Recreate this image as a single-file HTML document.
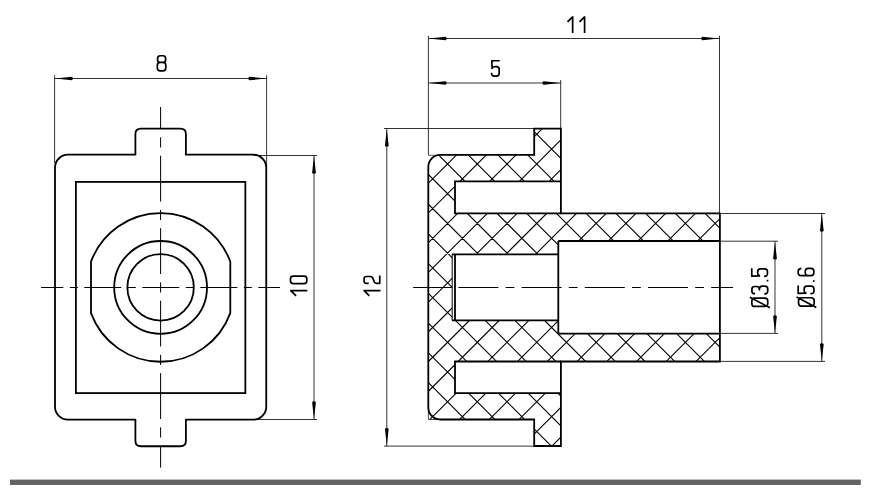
<!DOCTYPE html><html><head><meta charset="utf-8"><style>html,body{margin:0;padding:0;background:#fff;width:874px;height:500px;overflow:hidden;font-family:"Liberation Sans",sans-serif}</style></head><body><svg width="874" height="500" viewBox="0 0 874 500" style="position:absolute;left:0;top:0">
<rect width="874" height="500" fill="#fff"/>
<path d="M68.0,154.7 H135.4 V134.1 Q135.4,128.6 140.9,128.6 H180.4 Q185.9,128.6 185.9,134.1 V154.7 H253.25 A13.0,13.0 0 0 1 266.25,167.7 V406.7 A13.0,13.0 0 0 1 253.25,419.7 H185.9 V440.75 Q185.9,446.25 180.4,446.25 H140.9 Q135.4,446.25 135.4,440.75 V419.7 H68.0 A13.0,13.0 0 0 1 55.0,406.7 V167.7 A13.0,13.0 0 0 1 68.0,154.7 Z" fill="none" stroke="#000" stroke-width="1.8" stroke-linejoin="round"/>
<rect x="75.9" y="181.9" width="169.45" height="211.2" fill="none" stroke="#000" stroke-width="1.8"/>
<path d="M91.0,261.68 A74.2,74.2 0 0 1 230.3,261.68 V313.12 A74.2,74.2 0 0 1 91.0,313.12 Z" fill="none" stroke="#000" stroke-width="1.8" stroke-linejoin="round"/>
<circle cx="160.6" cy="287.4" r="46.4" fill="none" stroke="#000" stroke-width="1.8"/>
<circle cx="160.6" cy="287.4" r="33.2" fill="none" stroke="#000" stroke-width="1.8"/>
<line x1="160.6" y1="107" x2="160.6" y2="467.6" stroke="#000" stroke-width="1.0" stroke-dasharray="45.8 8.35 10.2 8.15" stroke-dashoffset="23.8"/>
<line x1="41" y1="287.5" x2="280" y2="287.5" stroke="#000" stroke-width="1.0" stroke-dasharray="37 6.5 8 6.5" stroke-dashoffset="14.7"/>
<line x1="54.6" y1="75.2" x2="54.6" y2="163" stroke="#000" stroke-width="0.8" />
<line x1="266.6" y1="75.2" x2="266.6" y2="167" stroke="#000" stroke-width="0.8" />
<line x1="54.5" y1="78.5" x2="266.7" y2="78.5" stroke="#000" stroke-width="0.8" />
<path d="M55.20,78.50 L71.70,76.65 Q72.90,76.83 72.90,78.50 Q72.90,80.17 71.70,80.35 Z" fill="#000"/>
<path d="M266.10,78.50 L249.60,80.35 Q248.40,80.17 248.40,78.50 Q248.40,76.83 249.60,76.65 Z" fill="#000"/>
<path transform="translate(156.6,55.0) scale(1,0.9765)" d="M3.6,0.75 H6.4 Q9.0,0.75 9.0,3.35 V5.0 Q9.0,7.6 6.4,7.6 H3.6 Q1.0,7.6 1.0,5.0 V3.35 Q1.0,0.75 3.6,0.75 Z M3.75,7.6 H6.199999999999999 Q9.2,7.6 9.2,10.6 V13.25 Q9.2,16.25 6.199999999999999,16.25 H3.75 Q0.75,16.25 0.75,13.25 V10.6 Q0.75,7.6 3.75,7.6 Z" fill="none" stroke="#000" stroke-width="1.7" vector-effect="non-scaling-stroke" stroke-linecap="butt" stroke-linejoin="round"/>
<line x1="253.5" y1="155.5" x2="317" y2="155.5" stroke="#000" stroke-width="0.8" />
<line x1="253.5" y1="419.5" x2="317" y2="419.5" stroke="#000" stroke-width="0.8" />
<line x1="314.0" y1="155.5" x2="314.0" y2="419.5" stroke="#000" stroke-width="0.8" />
<path d="M314.00,156.00 L315.85,172.50 Q315.67,173.70 314.00,173.70 Q312.33,173.70 312.15,172.50 Z" fill="#000"/>
<path d="M314.00,419.00 L312.15,402.50 Q312.33,401.30 314.00,401.30 Q315.67,401.30 315.85,402.50 Z" fill="#000"/>
<path transform="translate(290.1,296.3) rotate(-90) scale(1,1.0118)" d="M5.6,0.0 V17 M5.6,0.75 L0.45,5.9" fill="none" stroke="#000" stroke-width="1.7" vector-effect="non-scaling-stroke" stroke-linecap="butt" stroke-linejoin="round"/>
<path transform="translate(289.7,284.4) rotate(-90) scale(1,1.0529)" d="M3.35,0.75 H5.65 Q8.25,0.75 8.25,3.35 V13.65 Q8.25,16.25 5.65,16.25 H3.35 Q0.75,16.25 0.75,13.65 V3.35 Q0.75,0.75 3.35,0.75 Z" fill="none" stroke="#000" stroke-width="1.7" vector-effect="non-scaling-stroke" stroke-linecap="butt" stroke-linejoin="round"/>
<defs><clipPath id="hc"><path clip-rule="evenodd" d="M534.2,128.55 H560.9 V213.3 H719.9 V361.5 H560.9 V446.0 H534.2 V419.5 H428.3 V166.8 A12,12 0 0 1 440.3,154.8 H534.2 Z M455,181.3 H560.9 V213.3 H455 Z M455,361.5 H560.9 V393.2 H455 Z M452.2,254.4 H558.3 V241.0 H719.9 V333.6 H558.3 V320.4 H452.2 Z"/></clipPath></defs>
<path clip-path="url(#hc)" d="M432.04,120 L97.04,455 M461.77,120 L126.77,455 M491.50,120 L156.50,455 M521.23,120 L186.23,455 M550.96,120 L215.96,455 M580.69,120 L245.69,455 M610.42,120 L275.42,455 M640.15,120 L305.15,455 M669.88,120 L334.88,455 M699.61,120 L364.61,455 M729.34,120 L394.34,455 M759.07,120 L424.07,455 M788.80,120 L453.80,455 M818.53,120 L483.53,455 M848.26,120 L513.26,455 M877.99,120 L542.99,455 M907.72,120 L572.72,455 M937.45,120 L602.45,455 M967.18,120 L632.18,455 M996.91,120 L661.91,455 M1026.64,120 L691.64,455 M1056.37,120 L721.37,455 M106.30,120 L441.30,455 M136.03,120 L471.03,455 M165.76,120 L500.76,455 M195.49,120 L530.49,455 M225.22,120 L560.22,455 M254.95,120 L589.95,455 M284.68,120 L619.68,455 M314.41,120 L649.41,455 M344.14,120 L679.14,455 M373.87,120 L708.87,455 M403.60,120 L738.60,455 M433.33,120 L768.33,455 M463.06,120 L798.06,455 M492.79,120 L827.79,455 M522.52,120 L857.52,455 M552.25,120 L887.25,455 M581.98,120 L916.98,455 M611.71,120 L946.71,455 M641.44,120 L976.44,455 M671.17,120 L1006.17,455 M700.90,120 L1035.90,455" fill="none" stroke="#000" stroke-width="1.1"/>
<path d="M534.2,128.55 H560.9 V213.3 H719.9 V361.5 H560.9 V446.0 H534.2 V419.5 H440.3 A12,12 0 0 1 428.3,407.5 V166.8 A12,12 0 0 1 440.3,154.8 H534.2 Z" fill="none" stroke="#000" stroke-width="1.8" stroke-linejoin="miter"/>
<path d="M560.9,181.3 H455 V213.3 H560.9" fill="none" stroke="#000" stroke-width="1.8"/>
<path d="M560.9,393.2 H455 V361.5 H560.9" fill="none" stroke="#000" stroke-width="1.8"/>
<path d="M558.3,241.0 H719.9 M558.3,333.6 H719.9 M558.3,241.0 V333.6 M558.3,254.4 H452 M455,254.4 V320.4 M452,320.4 H558.3" fill="none" stroke="#000" stroke-width="1.8"/>
<line x1="452.2" y1="254.4" x2="452.2" y2="320.4" stroke="#000" stroke-width="1.0" />
<line x1="413.2" y1="287.5" x2="452" y2="287.5" stroke="#000" stroke-width="1.0" />
<line x1="458.4" y1="287.5" x2="733.1" y2="287.5" stroke="#000" stroke-width="1.0" stroke-dasharray="40 7.2 8.8 7.2"/>
<line x1="428.4" y1="35.75" x2="428.4" y2="155.3" stroke="#000" stroke-width="0.8" />
<line x1="428.4" y1="155.3" x2="440" y2="155.3" stroke="#000" stroke-width="0.6" />
<line x1="428.4" y1="407" x2="428.4" y2="419.5" stroke="#000" stroke-width="0.7" />
<line x1="428.4" y1="419.5" x2="441" y2="419.5" stroke="#000" stroke-width="0.7" />
<line x1="560.7" y1="80" x2="560.7" y2="128.6" stroke="#000" stroke-width="0.8" />
<line x1="719.5" y1="35.75" x2="719.5" y2="213.3" stroke="#000" stroke-width="0.8" />
<line x1="428.4" y1="38.5" x2="719.5" y2="38.5" stroke="#000" stroke-width="0.8" />
<path d="M428.90,38.50 L445.40,36.65 Q446.60,36.84 446.60,38.50 Q446.60,40.16 445.40,40.35 Z" fill="#000"/>
<path d="M719.00,38.50 L702.50,40.35 Q701.30,40.16 701.30,38.50 Q701.30,36.84 702.50,36.65 Z" fill="#000"/>
<path transform="translate(567.05,16.13) scale(1,0.9853)" d="M5.6,0.0 V17 M5.6,0.75 L0.45,5.9" fill="none" stroke="#000" stroke-width="1.7" vector-effect="non-scaling-stroke" stroke-linecap="butt" stroke-linejoin="round"/>
<path transform="translate(579.0,16.13) scale(1,0.9853)" d="M5.6,0.0 V17 M5.6,0.75 L0.45,5.9" fill="none" stroke="#000" stroke-width="1.7" vector-effect="non-scaling-stroke" stroke-linecap="butt" stroke-linejoin="round"/>
<line x1="428.4" y1="83.0" x2="560.7" y2="83.0" stroke="#000" stroke-width="0.8" />
<path d="M428.90,83.00 L445.40,81.15 Q446.60,81.33 446.60,83.00 Q446.60,84.67 445.40,84.85 Z" fill="#000"/>
<path d="M560.20,83.00 L543.70,84.85 Q542.50,84.67 542.50,83.00 Q542.50,81.33 543.70,81.15 Z" fill="#000"/>
<path transform="translate(491.1,60.0) scale(1,0.9941)" d="M8.6,0.75 H0.75 L1.0,9.0 M1.0,8.6 Q1.6,6.6 3.8,6.6 H5.3 Q8.1,6.6 8.1,9.4 V13.45 Q8.1,16.25 5.3,16.25 H3.3 Q0.5,16.25 0.5,13.45 V12.8" fill="none" stroke="#000" stroke-width="1.7" vector-effect="non-scaling-stroke" stroke-linecap="butt" stroke-linejoin="round"/>
<line x1="384" y1="128.5" x2="534.2" y2="128.5" stroke="#000" stroke-width="0.8" />
<line x1="384" y1="446.1" x2="534.2" y2="446.1" stroke="#000" stroke-width="0.8" />
<line x1="386.8" y1="128.5" x2="386.8" y2="446.1" stroke="#000" stroke-width="0.8" />
<path d="M386.80,129.00 L388.65,145.50 Q388.47,146.70 386.80,146.70 Q385.13,146.70 384.95,145.50 Z" fill="#000"/>
<path d="M386.80,445.60 L384.95,429.10 Q385.13,427.90 386.80,427.90 Q388.47,427.90 388.65,429.10 Z" fill="#000"/>
<path transform="translate(363.4,296.3) rotate(-90) scale(1,1.0059)" d="M5.6,0.0 V17 M5.6,0.75 L0.45,5.9" fill="none" stroke="#000" stroke-width="1.7" vector-effect="non-scaling-stroke" stroke-linecap="butt" stroke-linejoin="round"/>
<path transform="translate(363.3,284.2) rotate(-90) scale(1,1.0118)" d="M0.85,5.35 V3.2 Q0.85,0.75 3.2,0.75 H5.4 Q7.7,0.75 7.7,3.2 V7.2 C7.7,9.3 6.4,9.6 4.3,10.1 C2.1,10.6 0.85,11.2 0.85,13 V16.25 H8.7" fill="none" stroke="#000" stroke-width="1.7" vector-effect="non-scaling-stroke" stroke-linecap="butt" stroke-linejoin="round"/>
<line x1="719.9" y1="241.2" x2="778" y2="241.2" stroke="#000" stroke-width="0.8" />
<line x1="719.9" y1="333.4" x2="778" y2="333.4" stroke="#000" stroke-width="0.8" />
<line x1="775.0" y1="241.2" x2="775.0" y2="333.4" stroke="#000" stroke-width="0.8" />
<path d="M775.00,241.70 L776.85,258.20 Q776.66,259.40 775.00,259.40 Q773.34,259.40 773.15,258.20 Z" fill="#000"/>
<path d="M775.00,332.90 L773.15,316.40 Q773.34,315.20 775.00,315.20 Q776.66,315.20 776.85,316.40 Z" fill="#000"/>
<path transform="translate(751.1,307.2) rotate(-90) scale(1,1.0235)" d="M3.55,0.75 H6.3500000000000005 Q9.15,0.75 9.15,3.55 V13.45 Q9.15,16.25 6.3500000000000005,16.25 H3.55 Q0.75,16.25 0.75,13.45 V3.55 Q0.75,0.75 3.55,0.75 Z M9.9,-1.2 L-0.5,18.4" fill="none" stroke="#000" stroke-width="1.7" vector-effect="non-scaling-stroke" stroke-linecap="butt" stroke-linejoin="round"/>
<path transform="translate(751.1,294.6) rotate(-90) scale(1,1.0235)" d="M0.9,3.9 V3.3 Q0.9,0.8 3.4,0.8 H5.6 Q8.1,0.8 8.1,3.4 V5.3 Q8.1,8.1 5.2,8.1 H4.2 M4.8,8.1 H5.5 Q8.5,8.1 8.5,11.1 V13.45 Q8.5,16.25 5.6,16.25 H3.5 Q0.7,16.25 0.7,13.45 V12.9" fill="none" stroke="#000" stroke-width="1.7" vector-effect="non-scaling-stroke" stroke-linecap="butt" stroke-linejoin="round"/>
<rect x="766.65" y="279.75" width="1.7" height="1.7" fill="#000"/>
<path transform="translate(751.0,276.9) rotate(-90) scale(1,1.0118)" d="M8.6,0.75 H0.75 L1.0,9.0 M1.0,8.6 Q1.6,6.6 3.8,6.6 H5.3 Q8.1,6.6 8.1,9.4 V13.45 Q8.1,16.25 5.3,16.25 H3.3 Q0.5,16.25 0.5,13.45 V12.8" fill="none" stroke="#000" stroke-width="1.7" vector-effect="non-scaling-stroke" stroke-linecap="butt" stroke-linejoin="round"/>
<line x1="719.9" y1="213.5" x2="825" y2="213.5" stroke="#000" stroke-width="0.8" />
<line x1="719.9" y1="361.4" x2="825" y2="361.4" stroke="#000" stroke-width="0.8" />
<line x1="821.8" y1="213.5" x2="821.8" y2="361.4" stroke="#000" stroke-width="0.8" />
<path d="M821.80,214.00 L823.65,230.50 Q823.46,231.70 821.80,231.70 Q820.13,231.70 819.95,230.50 Z" fill="#000"/>
<path d="M821.80,360.90 L819.95,344.40 Q820.13,343.20 821.80,343.20 Q823.46,343.20 823.65,344.40 Z" fill="#000"/>
<path transform="translate(797.8,306.9) rotate(-90) scale(1,1.0059)" d="M3.55,0.75 H6.3500000000000005 Q9.15,0.75 9.15,3.55 V13.45 Q9.15,16.25 6.3500000000000005,16.25 H3.55 Q0.75,16.25 0.75,13.45 V3.55 Q0.75,0.75 3.55,0.75 Z M9.9,-1.2 L-0.5,18.4" fill="none" stroke="#000" stroke-width="1.7" vector-effect="non-scaling-stroke" stroke-linecap="butt" stroke-linejoin="round"/>
<path transform="translate(797.4,294.2) rotate(-90) scale(1,1.0176)" d="M8.6,0.75 H0.75 L1.0,9.0 M1.0,8.6 Q1.6,6.6 3.8,6.6 H5.3 Q8.1,6.6 8.1,9.4 V13.45 Q8.1,16.25 5.3,16.25 H3.3 Q0.5,16.25 0.5,13.45 V12.8" fill="none" stroke="#000" stroke-width="1.7" vector-effect="non-scaling-stroke" stroke-linecap="butt" stroke-linejoin="round"/>
<rect x="812.95" y="280.25" width="1.7" height="1.7" fill="#000"/>
<path transform="translate(797.4,276.4) rotate(-90) scale(1,1.0118)" d="M8.0,3.9 Q7.6,0.75 5,0.75 H3.6 Q0.8,0.75 0.8,3.6 V13.45 Q0.8,16.25 3.6,16.25 H5.2 Q8,16.25 8,13.45 V10.6 Q8,7.8 5.2,7.8 H3.6 Q0.8,7.8 0.8,10.6" fill="none" stroke="#000" stroke-width="1.7" vector-effect="non-scaling-stroke" stroke-linecap="butt" stroke-linejoin="round"/>
<rect x="10" y="479.6" width="850.8" height="5.4" fill="#646464"/>
</svg></body></html>
